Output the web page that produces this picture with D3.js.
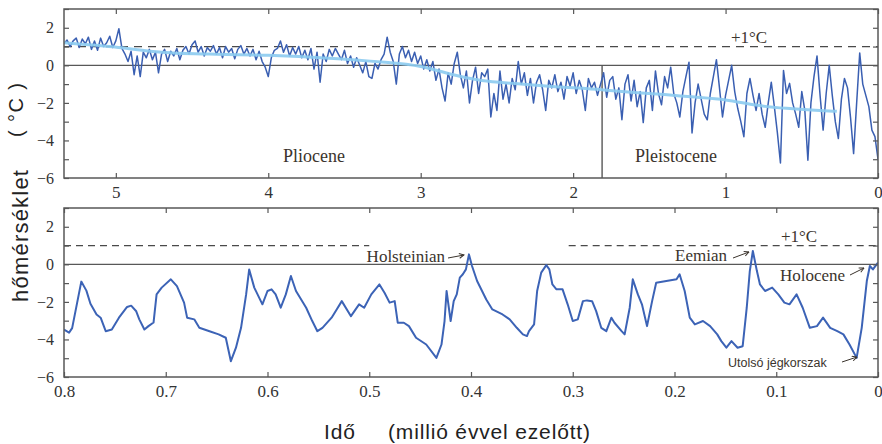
<!DOCTYPE html>
<html>
<head>
<meta charset="utf-8">
<script src="https://cdn.jsdelivr.net/npm/d3@7"></script>
<style>
  html, body { margin: 0; padding: 0; background: #fff; }
  svg { display: block; }
</style>
</head>
<body>
<svg id="chart" width="882" height="444"></svg>
<script>
// ---- Data -------------------------------------------------------------
// Pliocene–Pleistocene record, sampled every 0.02 million years from 5.34 Ma to today
const longRecordStep = 0.02;
const longRecordTemps = [
  1.15, 1.35, 1.0, 1.3, 1.45, 0.95, 1.4, 1.15, 1.5, 0.85,
  1.3, 0.8, 1.45, 1.0, 1.2, 1.55, 0.95, 1.3, 1.95, 0.9,
  0.6, 0.2, 0.75, -0.5, 0.5, -0.6, 0.7, 0.4, 0.85, 0.3,
  0.7, -0.4, 0.6, 0.85, 0.2, 0.75, 0.5, 0.9, 0.3, 0.8,
  1.0, 0.6, 1.1, 1.3, 0.7, 1.0, 0.5, 0.95, 0.75, 1.05,
  0.6, 0.95, 0.4, 1.0, 0.7, 0.9, 0.35, 0.85, 1.05, 0.6,
  0.9, 0.5, 0.85, 0.3, 0.75, 0.2, -0.1, -0.6, 0.4, 0.8,
  0.9, 1.3, 0.7, 1.1, 0.5, 0.95, 0.6, 1.0, 0.4, 0.8,
  0.3, 0.9, -0.2, 0.7, -0.9, 0.6, 0.2, 0.85, 0.5, 0.9,
  0.6, 0.3, 0.8, 0.1, 0.5, -0.1, 0.4, 0.0, -0.4, 0.2,
  -0.6, -0.7, 0.1, -0.2, 0.3, 0.6, 1.5, 0.7, 0.2, -1.0,
  0.6, 1.0, 0.4, 0.8, 0.2, 0.7, 0.1, 0.5, -0.2, 0.3,
  -0.3, 0.2, -0.8, -0.2, -1.2, -1.9, -0.4, -1.0, 0.1, 0.7,
  -0.5, -1.2, -0.3, -2.0, -0.8, -0.1, -1.5, -0.4, -0.6, -0.2,
  -2.75, -1.5, -2.4, -0.3, -1.8, -1.0, -2.0, -0.7, -1.3, 0.2,
  -1.0, -0.4, -1.6, -0.7, -2.0, -0.9, -0.5, -1.3, -2.4, -0.8,
  -1.2, -0.5, -1.4, -0.9, -1.8, -0.6, -1.1, -0.4, -1.5, -0.8,
  -1.3, -2.4, -0.7, -1.2, -0.9, -1.6, -1.0, -0.4, -1.7, -0.8,
  -0.6, -1.8, -1.2, -2.9, -1.0, -0.5, -1.9, -0.8, -2.2, -1.4,
  -3.05, -1.2, -0.8, -2.4, -0.3, -1.5, -2.1, -0.6, -1.2, -0.1,
  -1.5, -2.0, -2.75, -1.4, -0.6, 0.17, -3.6, -2.0, -1.0, -1.8,
  -2.6, -2.9, -1.5, -0.6, 0.3, -1.2, -2.75, -1.6, -0.8, 0.0,
  -1.4, -2.3, -3.0, -3.8, -1.5, -0.7, -1.6, -2.4, -1.5, -2.6,
  -3.3, -2.0, -0.9, -2.2, -3.6, -5.2, -0.27, -1.5, -0.96, -2.0,
  -2.6, -3.3, -1.4, -2.4, -5.05, -2.0, -0.6, 0.5, -1.6, -3.45,
  -1.5, 0.0, -1.6, -3.0, -3.9, -1.8, -0.7, -1.2, -2.8, -4.7,
  -2.0, 0.66, -1.0, -1.6, -2.2, -3.45, -3.8, -5.0
];
const longRecordAges = longRecordTemps.map((_, i) => +(5.34 - i * longRecordStep).toFixed(2));

// Long-term trend of the same record
const trendAges  = [5.34, 5.0, 4.7, 4.4, 4.0, 3.6, 3.2, 3.0, 2.8, 2.6, 2.4, 2.2, 2.0, 1.8, 1.6, 1.4, 1.2, 1.0, 0.8, 0.6, 0.4, 0.27];
const trendTemps = [1.2, 1.0, 0.65, 0.6, 0.55, 0.4, 0.15, 0.0, -0.5, -0.85, -0.95, -1.1, -1.2, -1.3, -1.45, -1.55, -1.7, -1.8, -2.15, -2.3, -2.4, -2.45];

// Last 800 000 years
const recentAges = [
  0.800, 0.795, 0.792, 0.783, 0.778, 0.774, 0.768, 0.764, 0.759, 0.753,
  0.746, 0.738, 0.734, 0.729, 0.726, 0.721, 0.717, 0.712, 0.709, 0.704,
  0.695, 0.689, 0.682, 0.679, 0.672, 0.667, 0.657, 0.648, 0.641, 0.636,
  0.631, 0.626, 0.621, 0.618, 0.613, 0.605, 0.600, 0.596, 0.592, 0.587,
  0.582, 0.577, 0.572, 0.562, 0.556, 0.551, 0.546, 0.537, 0.532, 0.527,
  0.518, 0.510, 0.505, 0.498, 0.490, 0.485, 0.480, 0.475, 0.472, 0.466,
  0.461, 0.454, 0.444, 0.434, 0.429, 0.426, 0.424, 0.420, 0.417, 0.414,
  0.411, 0.408, 0.405, 0.402, 0.399, 0.394, 0.385, 0.379, 0.369, 0.362,
  0.355, 0.349, 0.345, 0.343, 0.338, 0.335, 0.331, 0.326, 0.323, 0.320,
  0.316, 0.310, 0.305, 0.300, 0.295, 0.290, 0.286, 0.281, 0.277, 0.272,
  0.267, 0.262, 0.259, 0.252, 0.249, 0.244, 0.241, 0.236, 0.232, 0.227,
  0.222, 0.218, 0.208, 0.198, 0.195, 0.190, 0.185, 0.180, 0.172, 0.165,
  0.158, 0.154, 0.149, 0.144, 0.138, 0.133, 0.129, 0.126, 0.123, 0.119,
  0.116, 0.111, 0.104, 0.098, 0.092, 0.087, 0.080, 0.074, 0.067, 0.060,
  0.054, 0.047, 0.040, 0.034, 0.028, 0.021, 0.016, 0.011, 0.008, 0.005,
  0.000
];
const recentTemps = [
  -3.47, -3.64, -3.4, -0.92, -1.4, -2.1, -2.67, -2.84, -3.56, -3.47,
  -2.84, -2.27, -2.2, -2.5, -2.93, -3.47, -3.29, -3.1, -1.6, -1.24,
  -0.8, -1.16, -2.04, -2.84, -2.93, -3.38, -3.56, -3.73, -3.91, -5.16,
  -4.44, -3.38, -1.6, -0.27, -1.24, -2.13, -1.42, -1.33, -1.6, -2.31,
  -1.6, -0.62, -1.42, -2.31, -3.02, -3.56, -3.38, -2.84, -2.4, -1.96,
  -2.76, -2.13, -2.31, -1.6, -1.07, -1.51, -2.04, -1.96, -3.11, -3.11,
  -3.29, -3.91, -4.27, -4.98, -4.27, -3.02, -1.42, -3.02, -1.96, -1.6,
  -0.71, -0.53, -0.27, 0.53, -0.09, -0.89, -1.87, -2.4, -2.67, -2.93,
  -3.38, -3.73, -3.82, -3.56, -3.2, -1.42, -0.44, -0.04, -0.27, -1.07,
  -1.33, -1.33, -2.13, -3.02, -2.93, -1.96, -1.92, -1.96, -2.49, -3.38,
  -3.56, -2.84, -3.11, -3.56, -3.73, -2.31, -0.8, -1.6, -2.13, -3.29,
  -1.96, -0.98, -0.89, -0.8, -0.53, -1.42, -2.84, -3.2, -3.02, -3.29,
  -3.73, -4.09, -4.44, -4.09, -4.44, -4.36, -2.31, -0.36, 0.71, -0.36,
  -1.07, -1.42, -1.24, -1.6, -2.04, -2.13, -1.6, -2.31, -3.38, -3.29,
  -2.84, -3.38, -3.56, -3.73, -4.27, -4.98, -3.38, -0.89, -0.09, -0.27,
  0.09
];

// Axis ticks and labels
const longAgeTicks = [5, 4, 3, 2, 1, 0];
const recentAgeTicks = [0.8, 0.7, 0.6, 0.5, 0.4, 0.3, 0.2, 0.1, 0];
const tempTicks = [-6, -5, -4, -3, -2, -1, 0, 1, 2, 3];
const epochBoundary = 1.81;
const epochLabels = ["Pliocene", "Pleistocene"];
const warmLevel = 1;
const warmLabel = "+1°C";
const recentDashedSpans = [[0.8, 0.5], [0.304, 0]];
const eventLabels = ["Holsteinian", "Eemian", "Holocene", "Utolsó jégkorszak"];
const yTitle = ["( °C )", "hőmérséklet"];
const xTitle = ["Idő", "(millió évvel ezelőtt)"];

// ---- Layout ---------------------------------------------------------------
const svg = d3.select("#chart");
const L = 64, R = 878;
const P1 = { top: 9, bottom: 178 };
const P2 = { top: 208, bottom: 377 };
const frameColor = "#585858";
const textColor = "#3b342d";
const serif = "'Liberation Serif','Times New Roman',serif";
const sans = "'Liberation Sans',Arial,sans-serif";

const x1 = d3.scaleLinear().domain([5.34, 0]).range([L, R]);
const y1 = d3.scaleLinear().domain([-6, 3]).range([P1.bottom, P1.top]);
const x2 = d3.scaleLinear().domain([0.8, 0]).range([L, R]);
const y2 = d3.scaleLinear().domain([-6, 3]).range([P2.bottom, P2.top]);

const defs = svg.append("defs");
[["clip1", P1], ["clip2", P2]].forEach(([id, p]) => {
  defs.append("clipPath").attr("id", id)
    .append("rect").attr("x", L).attr("y", p.top).attr("width", R - L).attr("height", p.bottom - p.top);
});
defs.append("marker").attr("id", "arrow")
  .attr("viewBox", "0 0 10 10").attr("refX", 9).attr("refY", 5)
  .attr("markerWidth", 6).attr("markerHeight", 6).attr("orient", "auto")
  .append("path").attr("d", "M1,1 L9,5 L1,9").attr("fill", "none")
  .attr("stroke", "#3b342d").attr("stroke-width", 1.6);

const fmtTemp = d3.format("d");

function drawAxes(x, y, p, xTicks, xFmt) {
  const g = svg.append("g");
  const style = sel => {
    sel.select(".domain").remove();
    sel.selectAll(".tick line").attr("stroke", frameColor).attr("stroke-width", 1.2);
    sel.selectAll(".tick text").attr("fill", "#333").style("font-family", serif);
  };
  g.append("g").attr("transform", `translate(0,${p.bottom})`)
    .call(d3.axisBottom(x).tickValues(xTicks).tickSize(-5).tickPadding(8).tickFormat(xFmt))
    .call(style).call(s => s.selectAll(".tick text").style("font-size", "17px"));
  g.append("g").attr("transform", `translate(0,${p.top})`)
    .call(d3.axisTop(x).tickValues(xTicks).tickSize(-5).tickFormat(""))
    .call(style);
  g.append("g").attr("transform", `translate(${L},0)`)
    .call(d3.axisLeft(y).tickValues(tempTicks).tickSize(-5).tickPadding(10)
      .tickFormat(d => (d % 2 === 0 && d < 3) ? fmtTemp(d) : ""))
    .call(style).call(s => s.selectAll(".tick text").style("font-size", "16px"));
  g.append("g").attr("transform", `translate(${R},0)`)
    .call(d3.axisRight(y).tickValues(tempTicks).tickSize(-5).tickFormat(""))
    .call(style);
}

function drawFrame(p) {
  svg.append("rect").attr("x", L).attr("y", p.top).attr("width", R - L).attr("height", p.bottom - p.top)
    .attr("fill", "none").attr("stroke", frameColor).attr("stroke-width", 1.5);
}

function refLines(x, y, spans, dash) {
  svg.append("line").attr("x1", L).attr("x2", R).attr("y1", y(0)).attr("y2", y(0))
    .attr("stroke", frameColor).attr("stroke-width", 1.4);
  spans.forEach(([a, b]) => {
    svg.append("line").attr("x1", x(a)).attr("x2", x(b)).attr("y1", y(warmLevel)).attr("y2", y(warmLevel))
      .attr("stroke", "#4a4a4a").attr("stroke-width", 1.3).attr("stroke-dasharray", dash);
  });
}

// ---- Upper panel: 5.3 Ma to present ---------------------------------------
refLines(x1, y1, [[5.34, 0]], "8,6");
svg.append("line")
  .attr("x1", x1(epochBoundary)).attr("x2", x1(epochBoundary))
  .attr("y1", y1(0)).attr("y2", P1.bottom)
  .attr("stroke", frameColor).attr("stroke-width", 1.4);

const longLine = d3.line().x((d, i) => x1(longRecordAges[i])).y(d => y1(d));
svg.append("path").datum(longRecordTemps)
  .attr("clip-path", "url(#clip1)")
  .attr("d", longLine).attr("fill", "none")
  .attr("stroke", "#3a5fb2").attr("stroke-width", 1.5).attr("stroke-linejoin", "round");

const trendLine = d3.line().curve(d3.curveBasis).x((d, i) => x1(trendAges[i])).y(d => y1(d));
svg.append("path").datum(trendTemps)
  .attr("d", trendLine).attr("fill", "none")
  .attr("stroke", "#8ccbef").attr("stroke-width", 3).attr("stroke-opacity", 0.9);

drawFrame(P1);
drawAxes(x1, y1, P1, longAgeTicks, d3.format("d"));

svg.append("text").attr("x", 314).attr("y", 162).attr("text-anchor", "middle")
  .style("font-family", serif).style("font-size", "18px").attr("fill", textColor).text(epochLabels[0]);
svg.append("text").attr("x", 676).attr("y", 162).attr("text-anchor", "middle")
  .style("font-family", serif).style("font-size", "18px").attr("fill", textColor).text(epochLabels[1]);
svg.append("text").attr("x", 749).attr("y", 43).attr("text-anchor", "middle")
  .style("font-family", serif).style("font-size", "17px").attr("fill", textColor).text(warmLabel);

// ---- Lower panel: last 800 000 years --------------------------------------
refLines(x2, y2, recentDashedSpans, "7,5");

const recentLine = d3.line().x((d, i) => x2(recentAges[i])).y(d => y2(d));
svg.append("path").datum(recentTemps)
  .attr("clip-path", "url(#clip2)")
  .attr("d", recentLine).attr("fill", "none")
  .attr("stroke", "#3c63b6").attr("stroke-width", 2).attr("stroke-linejoin", "round");

drawFrame(P2);
drawAxes(x2, y2, P2, recentAgeTicks, d => d === 0 ? "0" : d3.format(".1f")(d));

svg.append("text").attr("x", 799).attr("y", 242).attr("text-anchor", "middle")
  .style("font-family", serif).style("font-size", "17px").attr("fill", textColor).text(warmLabel);

function note(label, tx, ty, anchor, font, size, a1, a2) {
  svg.append("text").attr("x", tx).attr("y", ty).attr("text-anchor", anchor)
    .style("font-family", font).style("font-size", size).attr("fill", textColor).text(label);
  svg.append("line").attr("x1", a1[0]).attr("y1", a1[1]).attr("x2", a2[0]).attr("y2", a2[1])
    .attr("stroke", textColor).attr("stroke-width", 1).attr("marker-end", "url(#arrow)");
}
note(eventLabels[0], 445, 262, "end", serif, "17px", [448, 258], [464, 255]);
note(eventLabels[1], 675, 261, "start", serif, "17px", [733, 258], [749, 252]);
note(eventLabels[2], 780, 281, "start", serif, "17px", [850, 275], [864, 268]);
note(eventLabels[3], 728, 367, "start", sans, "12.5px", [842, 362], [857, 357]);

// ---- Axis titles ----------------------------------------------------------
svg.append("text").attr("transform", "translate(23,110) rotate(-90)")
  .attr("text-anchor", "middle").attr("textLength", 54).attr("lengthAdjust", "spacing")
  .style("font-family", sans).style("font-size", "20px").style("white-space", "pre")
  .attr("fill", "#222").text(yTitle[0]);
svg.append("text").attr("transform", "translate(28,236) rotate(-90)")
  .attr("text-anchor", "middle").attr("textLength", 132).attr("lengthAdjust", "spacing")
  .style("font-family", sans).style("font-size", "22px")
  .attr("fill", "#222").text(yTitle[1]);
svg.append("text").attr("x", 324).attr("y", 439)
  .attr("textLength", 31).attr("lengthAdjust", "spacing")
  .style("font-family", sans).style("font-size", "21px").attr("fill", "#222").text(xTitle[0]);
svg.append("text").attr("x", 388).attr("y", 439)
  .attr("textLength", 202).attr("lengthAdjust", "spacing")
  .style("font-family", sans).style("font-size", "21px").attr("fill", "#222").text(xTitle[1]);
</script>
</body>
</html>
